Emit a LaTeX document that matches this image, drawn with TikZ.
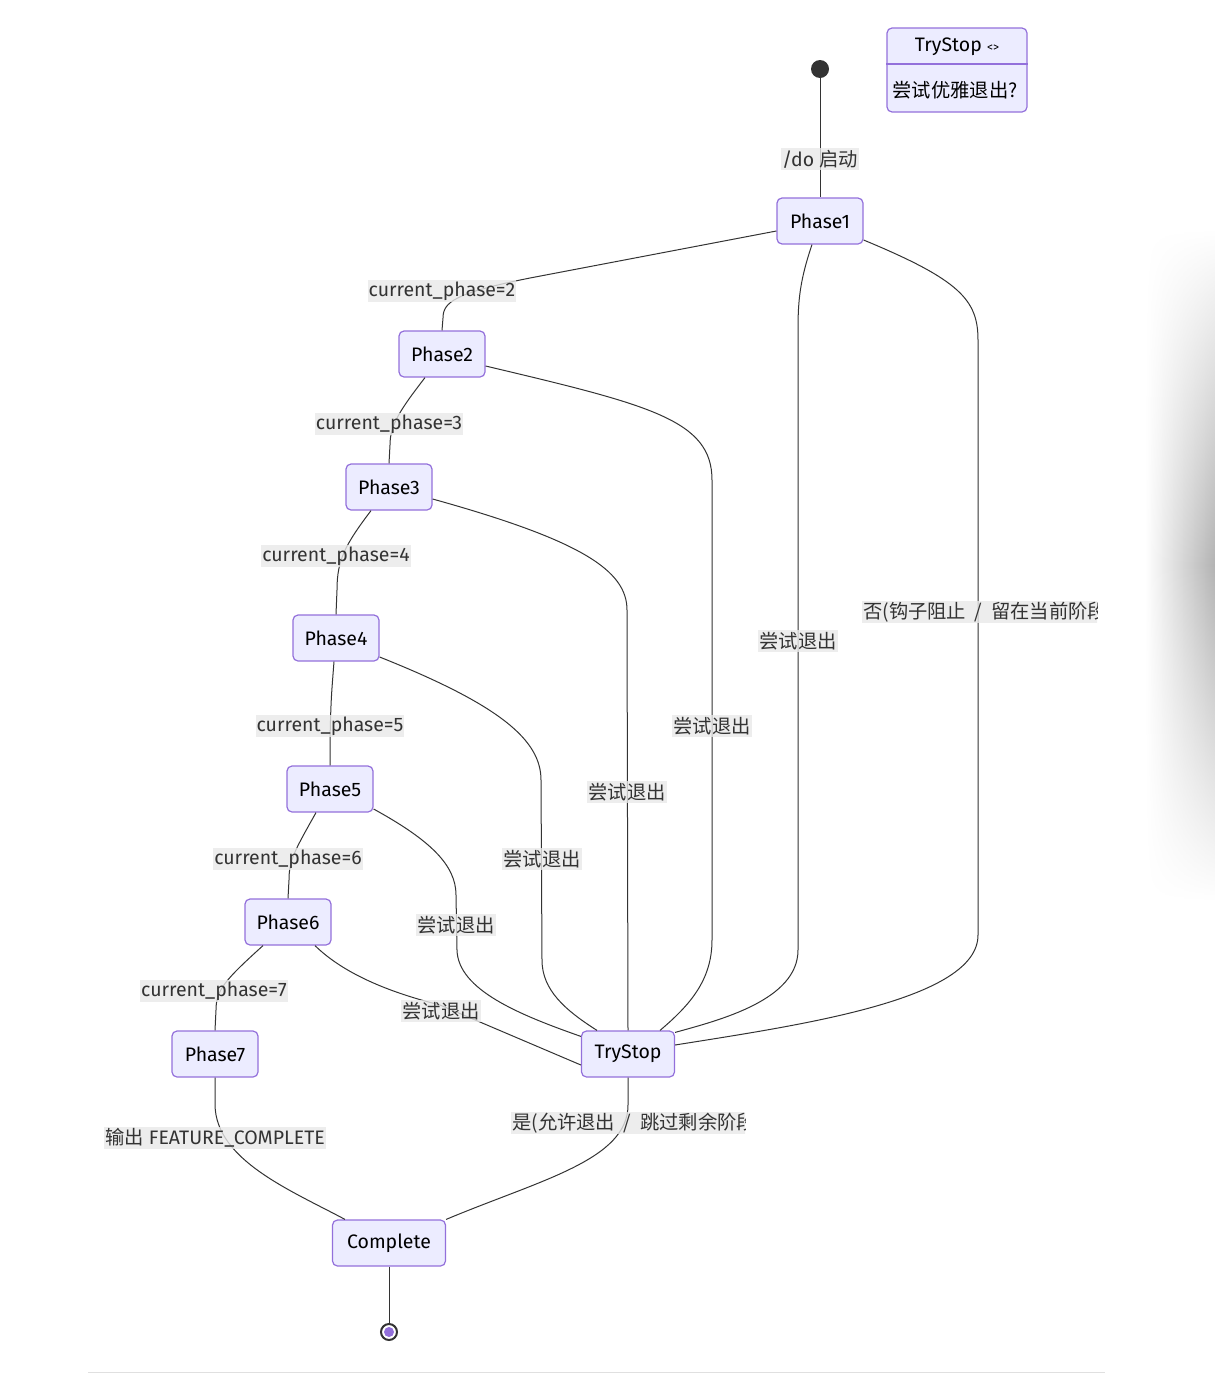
\documentclass[tikz,border=0pt]{standalone}
\usepackage{fontspec}
\setmainfont{Fira Sans}
\newfontfamily\cjk{Noto Sans CJK SC}[Scale=0.99]
\usetikzlibrary{fadings}
\definecolor{nfill}{HTML}{ECECFF}
\definecolor{ndraw}{HTML}{9370DB}
\definecolor{edgec}{HTML}{333333}
\definecolor{lblbg}{HTML}{E8E8E8}
\tikzfading[name=vfade, top color=transparent!100, bottom color=transparent!100, middle color=transparent!0]
\begin{document}
\begin{tikzpicture}[x=1pt,y=-1pt, font=\fontsize{19.5}{23}\selectfont,
 state/.style={draw=ndraw, fill=nfill, line width=1.2pt, rounded corners=5pt, minimum height=46pt, inner sep=0pt, text=black},
 conn/.style={draw=edgec, line width=1pt},
 lbl/.style={fill=lblbg, fill opacity=0.8, text opacity=1, text=edgec, inner xsep=1pt, inner ysep=0pt, minimum height=22pt}]
\useasboundingbox (0,0) rectangle (1215,1374);
% screen shadow
\shade[left color=white, right color=black!30, path fading=vfade] (1145,230) rectangle (1215,900);
% bottom rule
\draw[black!12, line width=1pt] (88,1372) -- (1105,1372);

% nodes
\fill[edgec] (820,69) circle (9) coordinate (start);
\node[state, minimum width=86pt] (p1) at (820,221) {Phase1};
\node[state, minimum width=86pt] (p2) at (442,354) {Phase2};
\node[state, minimum width=86pt] (p3) at (389,487) {Phase3};
\node[state, minimum width=86pt] (p4) at (336,638) {Phase4};
\node[state, minimum width=86pt] (p5) at (330,789) {Phase5};
\node[state, minimum width=86pt] (p6) at (288,922) {Phase6};
\node[state, minimum width=86pt] (p7) at (215,1054) {Phase7};
\node[state, minimum width=93pt] (ts) at (628,1054) {TryStop};
\node[state, minimum width=113pt] (comp) at (389,1243) {Complete};
\node[circle, draw=edgec, line width=2pt, fill=white, minimum size=16pt, inner sep=0pt] (end) at (389,1332) {};
\fill[ndraw] (end.center) circle (5);

% note
\node[state, minimum width=140pt, minimum height=84pt] (note) at (957,70) {};
\draw[ndraw, line width=1.2pt] (note.west |- 0,64) -- (note.east |- 0,64);
\node (notet) at (957,47) {TryStop {\fontsize{12}{14}\selectfont <>}};
\node (noteb) at (955,90) {\cjk 尝试优雅退出?};

% edges
\draw[conn] (start) -- (p1.north);
\draw[conn] ([yshift=-10pt]p1.west) -- (530,278) .. controls (455,293) and (443,302) .. (443,318) -- (p2.north);
\draw[conn] ([xshift=-17pt]p2.south) .. controls (400,410) and (390,425) .. (390,445) -- (p3.north);
\draw[conn] ([xshift=-18pt]p3.south) .. controls (345,545) and (337,560) .. (337,590) -- (p4.north);
\draw[conn] ([xshift=-2pt]p4.south) .. controls (331,700) .. (330,740) -- (p5.north);
\draw[conn] ([xshift=-14pt]p5.south) .. controls (295,850) and (289,860) .. (289,880) -- (p6.north);
\draw[conn] ([xshift=-25pt]p6.south) .. controls (225,980) and (216,990) .. (216,1010) -- (p7.north);
\draw[conn] (p7.south) -- (215,1105) .. controls (216,1160) and (290,1190) .. ([xshift=-44pt]comp.north);
\draw[conn] ([xshift=-8pt]p1.south) .. controls (800,280) and (798,300) .. (798,330) -- (798,950) .. controls (798,1000) and (720,1020) .. ([yshift=-2pt]ts.north east);
\draw[conn] ([yshift=-19pt]p1.east) .. controls (960,280) and (978,300) .. (978,340) -- (978,935) .. controls (978,1000) and (800,1025) .. ([yshift=9pt]ts.east);
\draw[conn] ([yshift=-12pt]p2.east) .. controls (650,405) and (712,420) .. (712,480) -- (712,940) .. controls (712,980) and (690,1005) .. ([xshift=32pt]ts.north);
\draw[conn] ([yshift=-12pt]p3.east) .. controls (580,540) and (627,570) .. (627,610) -- (ts.north);
\draw[conn] ([yshift=-19pt]p4.east) .. controls (500,705) and (541,740) .. (541,780) -- (542,960) .. controls (542,990) and (565,1010) .. ([xshift=-31pt]ts.north);
\draw[conn] ([yshift=-20pt]p5.east) .. controls (430,840) and (456,865) .. (456,895) -- (457,950) .. controls (458,990) and (520,1015) .. ([yshift=-6pt]ts.north west);
\draw[conn] ([xshift=27pt]p6.south) .. controls (340,970) and (380,990) .. (440,1005) -- ([yshift=-11pt]ts.west);
\draw[conn] (ts.south) -- (628,1105) .. controls (628,1160) and (540,1180) .. (comp.north east);
\draw[conn] (comp.south) -- (end.north);

% labels
\node[lbl] (l0) at (820,159) {/do {\cjk 启动}};
\node[lbl] (l2) at (442,291) {current\_phase=2};
\node[lbl] (l3) at (389,424) {current\_phase=3};
\node[lbl] (l4) at (336,556) {current\_phase=4};
\node[lbl] (l5) at (330,726) {current\_phase=5};
\node[lbl] (l6) at (288,859) {current\_phase=6};
\node[lbl] (l7) at (214,991) {current\_phase=7};
\node[lbl] (l8) at (215,1138) {{\cjk 输出} FEATURE\_COMPLETE};
\node[lbl] (t1) at (798,641) {\cjk 尝试退出};
\node[lbl] (t2) at (712,726) {\cjk 尝试退出};
\node[lbl] (t3) at (627,792) {\cjk 尝试退出};
\node[lbl] (t4) at (542,859) {\cjk 尝试退出};
\node[lbl] (t5) at (456,925) {\cjk 尝试退出};
\node[lbl] (t6) at (441,1011) {\cjk 尝试退出};
\begin{scope}
\clip (862,601) rectangle (1097,623);
\node[lbl, anchor=west] (lno) at (862,612) {\cjk 否(钩子阻止\hspace{0.45em}/\hspace{0.45em}留在当前阶段};
\end{scope}
\begin{scope}
\clip (511,1112) rectangle (745,1134);
\node[lbl, anchor=west] (lyes) at (511,1123) {\cjk 是(允许退出\hspace{0.45em}/\hspace{0.45em}跳过剩余阶段};
\end{scope}
\end{tikzpicture}
\end{document}
